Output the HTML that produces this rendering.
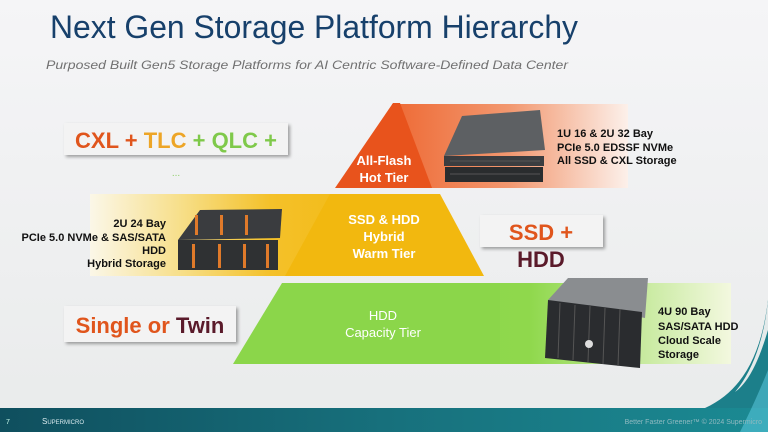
<!DOCTYPE html>
<html><head><meta charset="utf-8"><style>
html,body{margin:0;padding:0;width:768px;height:432px;overflow:hidden;background:#f0f1f1}
svg{display:block}
text{font-family:"Liberation Sans",sans-serif}
</style></head><body>
<svg width="768" height="432" viewBox="0 0 768 432" xmlns="http://www.w3.org/2000/svg">
<defs>
<linearGradient id="bg" x1="0" y1="0" x2="0" y2="1"><stop offset="0" stop-color="#f5f5f7"/><stop offset="1" stop-color="#e9ebeb"/></linearGradient>
<linearGradient id="og" x1="0" y1="0" x2="1" y2="0"><stop offset="0" stop-color="#ee6a35"/><stop offset="0.5" stop-color="#f29870"/><stop offset="1" stop-color="#fcf0ea"/></linearGradient>
<linearGradient id="yg" x1="0" y1="0" x2="1" y2="0"><stop offset="0" stop-color="#fbf7e8"/><stop offset="0.3" stop-color="#f7df8a"/><stop offset="0.6" stop-color="#f4c12a"/><stop offset="1" stop-color="#f2b80f"/></linearGradient>
<linearGradient id="gg" x1="0" y1="0" x2="1" y2="0"><stop offset="0" stop-color="#8bd64a"/><stop offset="0.55" stop-color="#8fd84c"/><stop offset="1" stop-color="#f3f8df"/></linearGradient>
<linearGradient id="ft" x1="0" y1="0" x2="1" y2="0"><stop offset="0" stop-color="#0f4f5e"/><stop offset="0.5" stop-color="#17707c"/><stop offset="1" stop-color="#1b8a93"/></linearGradient>
<filter id="sh" x="-10%" y="-20%" width="130%" height="150%"><feDropShadow dx="2" dy="2" stdDeviation="1.5" flood-color="#000" flood-opacity="0.35"/></filter>
</defs>
<rect width="768" height="432" fill="url(#bg)"/>
<!-- swoosh -->
<path d="M768 300 C762 350 745 390 705 408 L768 408 Z" fill="#1c7f8a"/>
<path d="M768 300 C764 340 752 372 735 392 C752 380 762 350 768 330 Z" fill="#e4eaea"/>
<rect x="0" y="408" width="768" height="24" fill="url(#ft)"/>
<path d="M740 432 C750 412 760 390 768 370 L768 432 Z" fill="#5fd0e6" opacity="0.5"/>
<text x="6" y="424" font-size="7" fill="#cfe">7</text>
<text x="42" y="424" font-size="8" fill="#d8eaee" font-family="Liberation Serif,serif">S<tspan font-size="6">UPERMICRO</tspan></text>
<text x="762" y="424" font-size="7" fill="#8fb9c0" text-anchor="end">Better Faster Greener™ © 2024 Supermicro</text>

<!-- title -->
<text x="50" y="38" font-size="32" fill="#17406b" textLength="528" lengthAdjust="spacingAndGlyphs">Next Gen Storage Platform Hierarchy</text>
<text x="46" y="69" font-size="12" font-style="italic" fill="#707070" textLength="522" lengthAdjust="spacingAndGlyphs">Purposed Built Gen5 Storage Platforms for AI Centric Software-Defined Data Center</text>

<!-- top tier -->
<rect x="392" y="104" width="236" height="84" fill="url(#og)"/>
<polygon points="393,103 335,188 432,188 400,103" fill="#e8531c"/>
<text x="384" y="165" font-size="13" font-weight="bold" fill="#fff" text-anchor="middle">All-Flash</text>
<text x="384" y="182" font-size="13" font-weight="bold" fill="#fff" text-anchor="middle">Hot Tier</text>
<!-- top server -->
<polygon points="462,116 540,110 545,150 444,156" fill="#5d6063"/>
<rect x="444" y="156" width="100" height="10" fill="#3b3d40"/>
<rect x="445" y="167" width="98" height="15" fill="#2a2c2e"/>
<g stroke="#555" stroke-width="1"><line x1="450" y1="161" x2="540" y2="161"/><line x1="450" y1="174" x2="540" y2="174"/></g>
<text x="557" y="137" font-size="11" font-weight="bold" fill="#111">1U 16 &amp; 2U 32 Bay</text>
<text x="557" y="151" font-size="11" font-weight="bold" fill="#111">PCIe 5.0 EDSSF NVMe</text>
<text x="557" y="164" font-size="11" font-weight="bold" fill="#111">All SSD &amp; CXL Storage</text>

<!-- middle tier -->
<rect x="90" y="194" width="300" height="82" fill="url(#yg)"/>
<polygon points="330,194 440,194 484,276 285,276" fill="#f2b80f"/>
<text x="384" y="224" font-size="13" font-weight="bold" fill="#fff" text-anchor="middle">SSD &amp; HDD</text>
<text x="384" y="241" font-size="13" font-weight="bold" fill="#fff" text-anchor="middle">Hybrid</text>
<text x="384" y="258" font-size="13" font-weight="bold" fill="#fff" text-anchor="middle">Warm Tier</text>
<!-- middle server -->
<polygon points="200,210 282,209 280,238 178,240" fill="#3a3c3f"/>
<rect x="178" y="240" width="100" height="30" fill="#2f3133"/>
<g fill="#e07a2a"><rect x="195" y="215" width="3" height="20"/><rect x="220" y="215" width="3" height="20"/><rect x="245" y="215" width="3" height="20"/><rect x="192" y="244" width="3" height="24"/><rect x="218" y="244" width="3" height="24"/><rect x="243" y="244" width="3" height="24"/><rect x="266" y="244" width="3" height="24"/></g>
<g font-size="11" font-weight="bold" fill="#111" text-anchor="end">
<text x="166" y="227">2U 24 Bay</text>
<text x="166" y="241">PCIe 5.0 NVMe &amp; SAS/SATA</text>
<text x="166" y="254">HDD</text>
<text x="166" y="267">Hybrid Storage</text></g>

<!-- bottom tier -->
<rect x="282" y="283" width="449" height="81" fill="url(#gg)"/>
<polygon points="282,283 500,283 500,364 233,364" fill="#8bd64a"/>
<text x="383" y="320" font-size="13" fill="#fff" text-anchor="middle">HDD</text>
<text x="383" y="337" font-size="13" fill="#fff" text-anchor="middle">Capacity Tier</text>
<!-- bottom server -->
<polygon points="568,278 648,278 645,318 548,300" fill="#8a8d90"/>
<polygon points="548,300 642,312 640,368 545,358" fill="#2a2c2f"/>
<g stroke="#555" stroke-width="1"><line x1="560" y1="303" x2="558" y2="358"/><line x1="575" y1="305" x2="573" y2="360"/><line x1="590" y1="306" x2="588" y2="362"/><line x1="605" y1="308" x2="603" y2="364"/><line x1="620" y1="309" x2="618" y2="366"/></g>
<circle cx="589" cy="344" r="4" fill="#ddd"/>
<g font-size="11" font-weight="bold" fill="#111">
<text x="658" y="315">4U 90 Bay</text>
<text x="658" y="330">SAS/SATA HDD</text>
<text x="658" y="344">Cloud Scale</text>
<text x="658" y="358">Storage</text></g>

<!-- callout boxes -->
<rect x="64" y="123" width="224" height="32" fill="#f3f3f3" filter="url(#sh)"/>
<text x="176" y="148" font-size="22" font-weight="bold" text-anchor="middle"><tspan fill="#e0551c">CXL + </tspan><tspan fill="#eda526">TLC </tspan><tspan fill="#7fc94a">+ QLC +</tspan></text>
<text x="176" y="176" font-size="10" fill="#8fcf6a" text-anchor="middle">...</text>

<rect x="480" y="215" width="123" height="32" fill="#f3f3f3" filter="url(#sh)"/>
<text x="541" y="240" font-size="22" font-weight="bold" fill="#e0551c" text-anchor="middle">SSD +</text>
<text x="541" y="267" font-size="22" font-weight="bold" fill="#5a1a2a" text-anchor="middle">HDD</text>

<rect x="64" y="306" width="172" height="36" fill="#f3f3f3" filter="url(#sh)"/>
<text x="150" y="333" font-size="22" font-weight="bold" text-anchor="middle"><tspan fill="#e0551c">Single or </tspan><tspan fill="#5a1a2a">Twin</tspan></text>
</svg>
</body></html>
